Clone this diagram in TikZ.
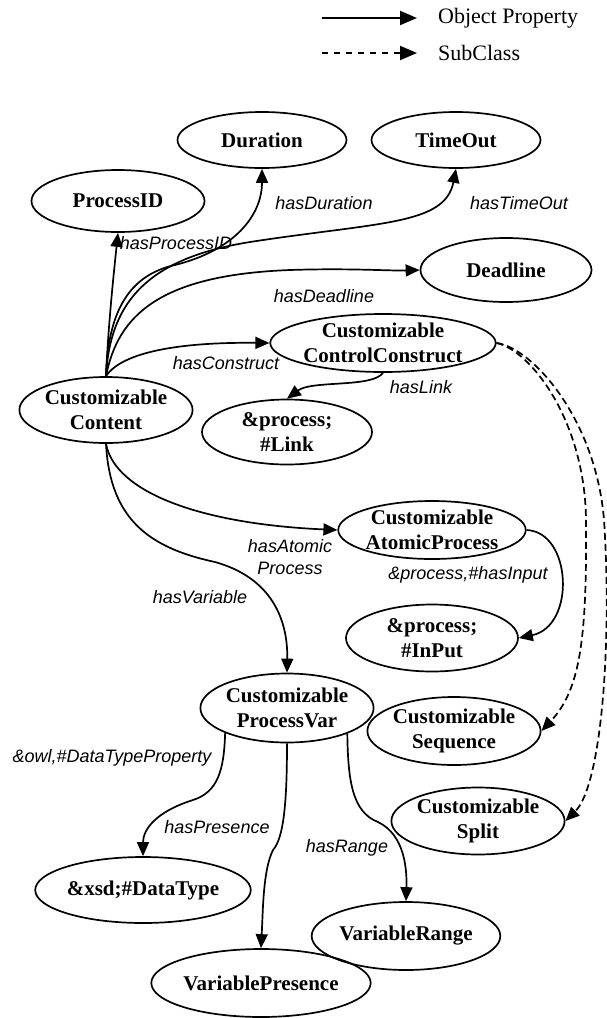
\documentclass[tikz,border=0pt]{standalone}
\usepackage{fontspec}
\setmainfont{Liberation Serif}
\setsansfont{Liberation Sans}
\usetikzlibrary{arrows.meta,shapes.geometric}

\begin{document}
\begin{tikzpicture}[x=1pt,y=-1pt,
  cls/.style={draw, ellipse, line width=1.7pt, inner sep=0pt, align=center,
    font=\fontsize{21}{25}\selectfont\bfseries},
  rel/.style={font=\fontsize{18}{22}\selectfont\sffamily\itshape, inner sep=0pt, align=center},
  legtext/.style={anchor=west, inner sep=0pt, font=\fontsize{22}{26}\selectfont},
  tip/.style={-{Triangle[length=14pt,width=12pt]}},
  prop/.style={line width=1.7pt, tip},
  sub/.style={line width=1.7pt, dash pattern=on 7pt off 4pt, tip},
]
\useasboundingbox (0,0) rectangle (606,1018);

% legend
\coordinate (l1a) at (322,18);
\coordinate (l1b) at (417,18);
\coordinate (l2a) at (322,53);
\coordinate (l2b) at (417,53);
\draw[line width=2pt, -{Triangle[length=17pt,width=14pt]}] (l1a) -- (l1b);
\draw[line width=2pt, dash pattern=on 6pt off 6pt, -{Triangle[length=17pt,width=14pt]}] (l2a) -- (l2b);
\node[legtext] (lg1) at (438,18) {Object Property};
\node[legtext] (lg2) at (438,53) {SubClass};

% classes
\node[cls, minimum width=173pt, minimum height=62pt] (pid) at (118,201) {ProcessID};
\node[cls, minimum width=169pt, minimum height=56pt] (dur) at (262,140) {Duration};
\node[cls, minimum width=169pt, minimum height=56pt] (tmo) at (456,140) {TimeOut};
\node[cls, minimum width=171pt, minimum height=64pt] (ddl) at (506,270) {Deadline};
\node[cls, minimum width=167pt, minimum height=58pt] (ccc) at (383,343) {Customizable\\ControlConstruct};
\node[cls, minimum width=170pt, minimum height=65pt] (lnk) at (287,432) {\&process;\\\#Link};
\node[cls, minimum width=146pt, minimum height=66pt] (cnt) at (106,410) {Customizable\\Content};
\node[cls, minimum width=172pt, minimum height=58pt] (atp) at (432,530) {Customizable\\AtomicProcess};
\node[cls, minimum width=172pt, minimum height=67pt] (inp) at (432,638) {\&process;\\\#InPut};
\node[cls, minimum width=170pt, minimum height=69pt] (pvr) at (287,708) {Customizable\\ProcessVar};
\node[cls, minimum width=168pt, minimum height=68pt] (seq) at (454,731) {Customizable\\Sequence};
\node[cls, minimum width=169pt, minimum height=67pt] (spl) at (478,821) {Customizable\\Split};
\node[cls, minimum width=170pt, minimum height=66pt] (dty) at (143,890) {\&xsd;\#DataType};
\node[cls, minimum width=168pt, minimum height=68pt] (vrg) at (406,936) {VariableRange};
\node[cls, minimum width=168pt, minimum height=68pt] (vps) at (261,983) {VariablePresence};

% object properties
\draw[prop] (cnt.north) .. controls (108,330) and (113,280) .. (pid.south);
\draw[prop] (cnt.north) .. controls (108,310) and (130,275) .. (175,265)
  .. controls (235,250) and (262,215) .. (dur.south);
\draw[prop] (cnt.north) .. controls (110,300) and (150,258) .. (250,242)
  .. controls (380,222) and (445,225) .. (tmo.south);
\draw[prop] (cnt.north) .. controls (118,315) and (160,275) .. (290,270)
  .. controls (350,268) and (390,271) .. (ddl.west);
\draw[prop] (cnt.north) .. controls (122,352) and (180,342) .. (ccc.west);
\draw[prop] (ccc.south) .. controls (372,388) and (312,380) .. (lnk.north);
\draw[prop] (cnt.south) .. controls (115,492) and (200,524) .. (atp.west);
\draw[prop] (cnt.south) .. controls (110,520) and (150,548) .. (215,562)
  .. controls (272,578) and (288,620) .. (pvr.north);
\draw[prop] (atp.east) .. controls (572,532) and (576,626) .. (inp.east);
\draw[prop] (pvr.202) .. controls (224,770) and (218,792) .. (193,800)
  .. controls (155,812) and (143,830) .. (dty.north);
\draw[prop] (pvr.south) .. controls (287,800) and (284,838) .. (273,850)
  .. controls (263,870) and (263,910) .. (vps.north);
\draw[prop] (pvr.-23) .. controls (348,780) and (352,812) .. (378,822)
  .. controls (405,835) and (407,870) .. (vrg.north);

% subclass links
\draw[sub] (ccc.east) .. controls (530,350) and (585,420) .. (586,520)
  .. controls (587,640) and (580,690) .. (seq.east);
\draw[sub] (ccc.east) .. controls (533,348) and (596,420) .. (604,520)
  .. controls (612,640) and (602,785) .. (spl.east);

% property labels
\node[rel] (lpid) at (176,243) {hasProcessID};
\node[rel] (ldur) at (324,203) {hasDuration};
\node[rel] (ltmo) at (519,203) {hasTimeOut};
\node[rel] (lddl) at (324,296) {hasDeadline};
\node[rel] (lccc) at (226,363) {hasConstruct};
\node[rel] (llnk) at (421,387) {hasLink};
\node[rel] (latp) at (290,557) {hasAtomic\\Process};
\node[rel] (lvar) at (200,597) {hasVariable};
\node[rel] (linp) at (468,575) {\&process,\#hasInput};
\node[rel] (ldty) at (112,758) {\&owl,\#DataTypeProperty};
\node[rel] (lvps) at (217,827) {hasPresence};
\node[rel] (lvrg) at (347,848) {hasRange};
\end{tikzpicture}
\end{document}
